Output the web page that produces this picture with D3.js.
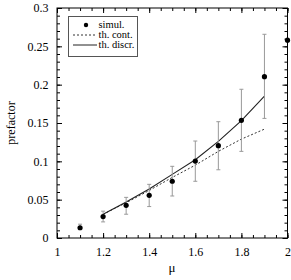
<!DOCTYPE html>
<html><head><meta charset="utf-8">
<script src="https://cdn.jsdelivr.net/npm/d3@7"></script>
<style>body{margin:0;background:#fff}svg{display:block}svg text{font-family:"Liberation Serif","DejaVu Serif",serif !important}</style>
</head><body>
<script>
const simMu = [1.1, 1.2, 1.3, 1.4, 1.5, 1.6, 1.7, 1.8, 1.9, 2.0];
const simVal = [0.0134, 0.028, 0.0426, 0.0557, 0.074, 0.1004, 0.1204, 0.1535, 0.2104, 0.258];
const simLo  = [0.011, 0.021, 0.031, 0.041, 0.0548, 0.074, 0.089, 0.113, 0.156, null];
const simHi  = [0.018, 0.035, 0.053, 0.070, 0.0935, 0.1265, 0.1517, 0.194, 0.2657, null];
const thMu = [1.2, 1.3, 1.4, 1.5, 1.6, 1.7, 1.8, 1.9];
const thCont = [0.031, 0.046, 0.062, 0.079, 0.095, 0.113, 0.129, 0.142];
const thDiscr = [0.031, 0.047, 0.064, 0.083, 0.102, 0.126, 0.153, 0.185];
const xTicks = [1, 1.2, 1.4, 1.6, 1.8, 2];
const yTicks = [0, 0.05, 0.1, 0.15, 0.2, 0.25, 0.3];
const legendLabels = ["simul.", "th. cont.", "th. discr."];

const FONT = '"Liberation Serif", "DejaVu Serif", serif';
const W = 291, H = 280;
const L = 57, R = 287.5, T = 8, B = 238;
const svg = d3.select("body").append("svg").attr("width", W).attr("height", H)
  .attr("font-family", FONT);
const x = d3.scaleLinear().domain([1, 2]).range([L, R]);
const y = d3.scaleLinear().domain([0, 0.3]).range([B, T]);

const fmt = d => d === 0 ? "0" : String(+d.toFixed(2));
const xMinor = d3.range(1, 2.0001, 0.05).map(v => +v.toFixed(2));
const yMinor = d3.range(0, 0.3001, 0.01).map(v => +v.toFixed(2));

svg.append("rect").attr("x", L).attr("y", T).attr("width", R - L).attr("height", B - T)
  .attr("fill", "none").attr("stroke", "#000").attr("stroke-width", 1);

function axis(gen, tr, ticks, len, labels) {
  const g = svg.append("g").attr("transform", tr)
    .call(gen.tickValues(ticks).tickSizeInner(len).tickSizeOuter(0).tickFormat(labels ? fmt : ""));
  g.attr("font-family", FONT);
  g.select(".domain").remove();
  g.selectAll("line").attr("stroke", "#000");
  g.selectAll("text").attr("font-size", 12).attr("fill", "#000").attr("font-family", FONT);
  return g;
}
axis(d3.axisBottom(x), `translate(0,${B})`, xMinor, -3, false);
axis(d3.axisBottom(x), `translate(0,${B})`, xTicks, -5, true).selectAll("text").attr("dy", "1.25em");
axis(d3.axisTop(x), `translate(0,${T})`, xMinor, -3, false);
axis(d3.axisTop(x), `translate(0,${T})`, xTicks, -5, false);
axis(d3.axisLeft(y), `translate(${L},0)`, yMinor, -3, false);
axis(d3.axisLeft(y), `translate(${L},0)`, yTicks, -5, true).selectAll("text").attr("dx", "-0.45em");
axis(d3.axisRight(y), `translate(${R},0)`, yMinor, -3, false);
axis(d3.axisRight(y), `translate(${R},0)`, yTicks, -5, false);

const line = d3.line().x((d, i) => x(thMu[i])).y(d => y(d));
svg.append("path").datum(thCont).attr("d", line).attr("fill", "none")
  .attr("stroke", "#333").attr("stroke-width", 1).attr("stroke-dasharray", "2,2");
svg.append("path").datum(thDiscr).attr("d", line).attr("fill", "none")
  .attr("stroke", "#222").attr("stroke-width", 1.1);

const eb = svg.append("g").attr("stroke", "#999").attr("stroke-width", 1);
simMu.forEach((m, i) => {
  if (simLo[i] == null) return;
  const cx = x(m);
  eb.append("line").attr("x1", cx).attr("x2", cx).attr("y1", y(simLo[i])).attr("y2", y(simHi[i]));
  [simLo[i], simHi[i]].forEach(v => eb.append("line").attr("x1", cx - 2).attr("x2", cx + 2).attr("y1", y(v)).attr("y2", y(v)));
});
svg.append("g").selectAll("circle").data(simVal).join("circle")
  .attr("cx", (d, i) => x(simMu[i])).attr("cy", d => y(d)).attr("r", 2.6).attr("fill", "#000");

const lg = svg.append("g");
lg.append("rect").attr("x", 68.5).attr("y", 16.5).attr("width", 69).attr("height", 40)
  .attr("fill", "#fff").attr("stroke", "#555").attr("stroke-width", 1);
const rowY = [25, 35, 45];
lg.append("circle").attr("cx", 86).attr("cy", rowY[0]).attr("r", 2.2).attr("fill", "#000");
lg.append("line").attr("x1", 73).attr("x2", 97).attr("y1", rowY[1]).attr("y2", rowY[1])
  .attr("stroke", "#333").attr("stroke-dasharray", "2,2");
lg.append("line").attr("x1", 73).attr("x2", 97).attr("y1", rowY[2]).attr("y2", rowY[2])
  .attr("stroke", "#222");
legendLabels.forEach((t, i) => lg.append("text").attr("x", 98.5).attr("y", rowY[i] + 3.3)
  .attr("font-size", 10.5).attr("font-family", FONT).text(t));

svg.append("text").attr("x", 172).attr("y", 272).attr("text-anchor", "middle").attr("font-size", 13)
  .attr("font-family", FONT).text("μ");
svg.append("text").attr("transform", "translate(15,123) rotate(-90)").attr("text-anchor", "middle")
  .attr("font-size", 12).attr("font-family", FONT).text("prefactor");
</script>
</body></html>
